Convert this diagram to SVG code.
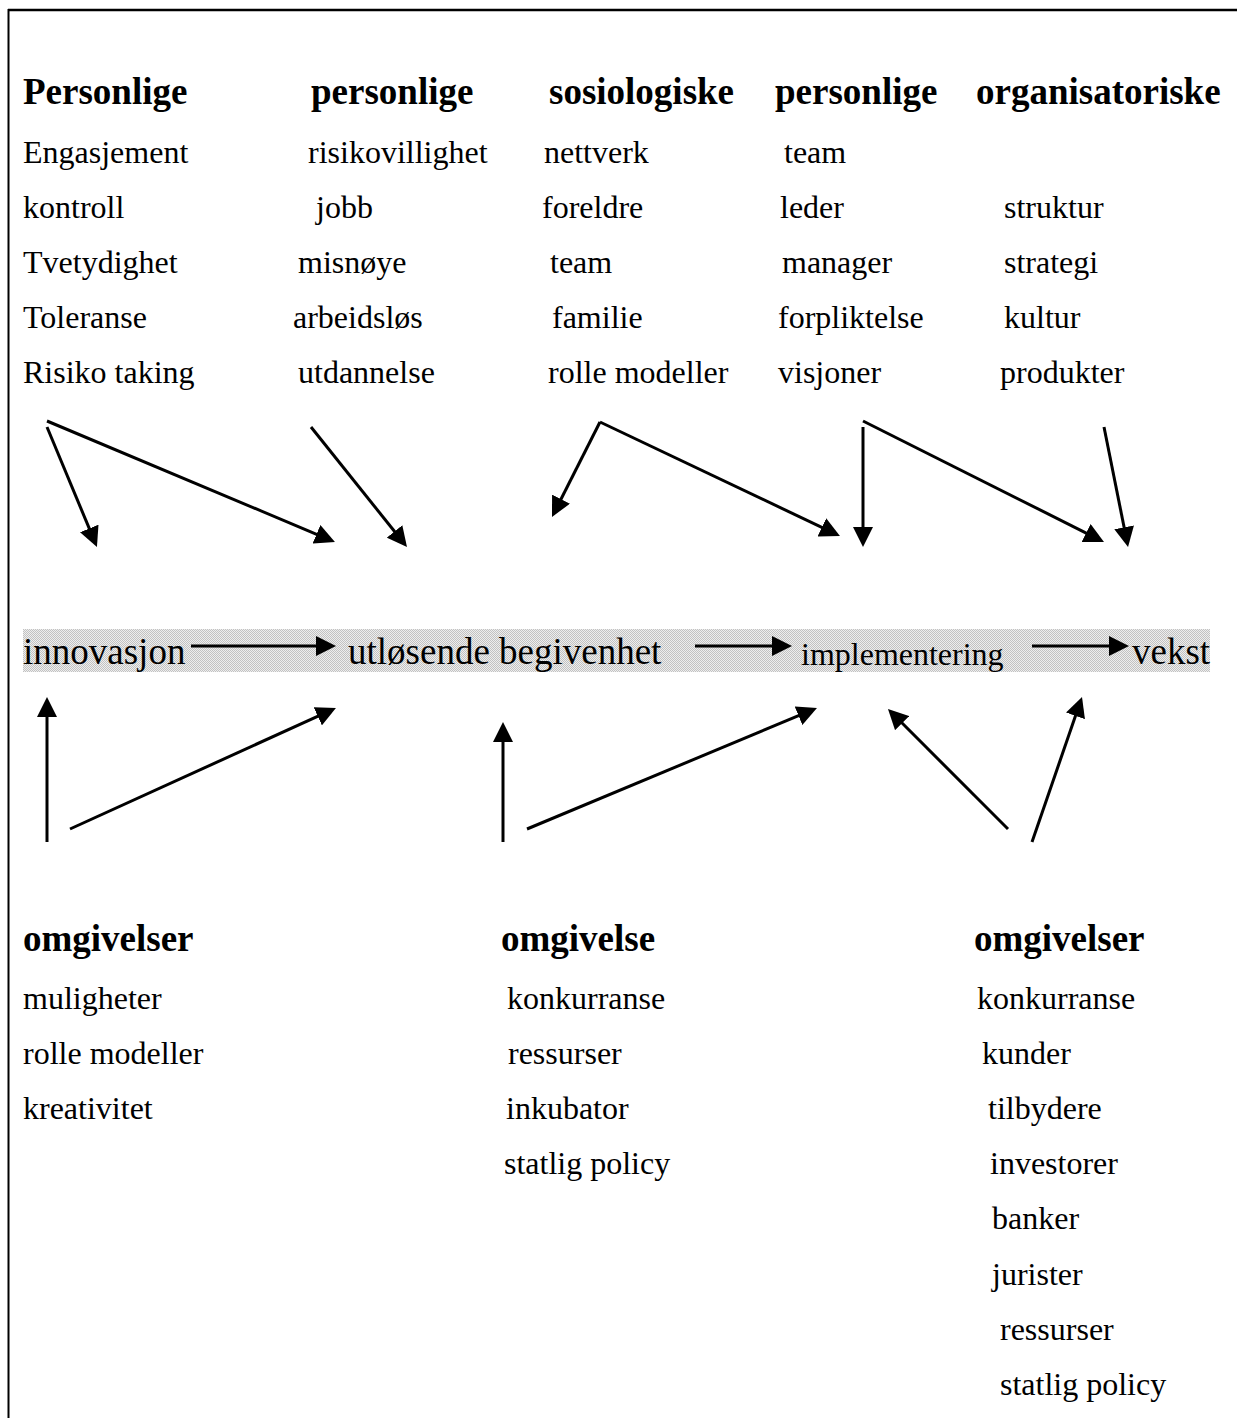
<svg xmlns="http://www.w3.org/2000/svg" width="1247" height="1418" viewBox="0 0 1247 1418">
  <style>
    text { font-family: "Liberation Serif", "Times New Roman", serif; fill: #000; }
    .head { font-size: 37px; font-weight: bold; }
    .item { font-size: 32px; }
    .stage { font-size: 37px; }
    .stage-sm { font-size: 32px; }
    .conn line { stroke: #000; stroke-width: 3; marker-end: url(#arrow); }
    .frame { stroke: #000; fill: none; }
  </style>
  <defs>
    <marker id="arrow" markerUnits="userSpaceOnUse" markerWidth="20" markerHeight="20" refX="4" refY="10" orient="auto">
      <path d="M0,0 L20,10 L0,20 z" fill="#000"/>
    </marker>
    <pattern id="dots" width="2" height="2" patternUnits="userSpaceOnUse">
      <rect width="2" height="2" fill="#eeeeee"/>
      <rect x="0" y="0" width="1" height="1" fill="#c2c2c2"/>
      <rect x="1" y="1" width="1" height="1" fill="#c2c2c2"/>
    </pattern>
  </defs>

  <rect width="1247" height="1418" fill="#fff"/>

  <!-- page frame -->
  <line class="frame" x1="8" y1="10" x2="1237" y2="10" stroke-width="2.5"/>
  <line class="frame" x1="8.5" y1="9" x2="8.5" y2="1418" stroke-width="2"/>

  <!-- shaded process band -->
  <rect x="23" y="629" width="1187" height="43" fill="url(#dots)"/>

  <!-- personal factors -->
  <g id="personlige-1">
    <text class="head" x="23" y="104">Personlige</text>
    <text class="item" x="23" y="163">Engasjement</text>
    <text class="item" x="23" y="218">kontroll</text>
    <text class="item" x="23" y="273">Tvetydighet</text>
    <text class="item" x="23" y="328">Toleranse</text>
    <text class="item" x="23" y="383">Risiko taking</text>
  </g>

  <g id="personlige-2">
    <text class="head" x="311" y="104">personlige</text>
    <text class="item" x="308" y="163">risikovillighet</text>
    <text class="item" x="316" y="218">jobb</text>
    <text class="item" x="298" y="273">misnøye</text>
    <text class="item" x="293" y="328">arbeidsløs</text>
    <text class="item" x="298" y="383">utdannelse</text>
  </g>

  <g id="sosiologiske">
    <text class="head" x="549" y="104">sosiologiske</text>
    <text class="item" x="544" y="163">nettverk</text>
    <text class="item" x="542" y="218">foreldre</text>
    <text class="item" x="550" y="273">team</text>
    <text class="item" x="552" y="328">familie</text>
    <text class="item" x="548" y="383">rolle modeller</text>
  </g>

  <g id="personlige-3">
    <text class="head" x="775" y="104">personlige</text>
    <text class="item" x="784" y="163">team</text>
    <text class="item" x="780" y="218">leder</text>
    <text class="item" x="782" y="273">manager</text>
    <text class="item" x="778" y="328">forpliktelse</text>
    <text class="item" x="778" y="383">visjoner</text>
  </g>

  <g id="organisatoriske">
    <text class="head" x="976" y="104">organisatoriske</text>
    <text class="item" x="1004" y="218">struktur</text>
    <text class="item" x="1004" y="273">strategi</text>
    <text class="item" x="1004" y="328">kultur</text>
    <text class="item" x="1000" y="383">produkter</text>
  </g>

  <!-- process stages -->
  <g id="innovasjon">
    <text class="stage" x="23" y="664">innovasjon</text>
  </g>
  <g id="utlosende">
    <text class="stage" x="348" y="664">utløsende begivenhet</text>
  </g>
  <g id="implementering">
    <text class="stage-sm" x="801" y="665">implementering</text>
  </g>
  <g id="vekst">
    <text class="stage" x="1132" y="664">vekst</text>
  </g>

  <!-- environment factors -->
  <g id="omgivelser-1">
    <text class="head" x="23" y="951">omgivelser</text>
    <text class="item" x="23" y="1009">muligheter</text>
    <text class="item" x="23" y="1064">rolle modeller</text>
    <text class="item" x="23" y="1119">kreativitet</text>
  </g>

  <g id="omgivelse-2">
    <text class="head" x="501" y="951">omgivelse</text>
    <text class="item" x="507" y="1009">konkurranse</text>
    <text class="item" x="508" y="1064">ressurser</text>
    <text class="item" x="506" y="1119">inkubator</text>
    <text class="item" x="504" y="1174">statlig policy</text>
  </g>

  <g id="omgivelser-3">
    <text class="head" x="974" y="951">omgivelser</text>
    <text class="item" x="977" y="1009">konkurranse</text>
    <text class="item" x="982" y="1064">kunder</text>
    <text class="item" x="988" y="1119">tilbydere</text>
    <text class="item" x="990" y="1174">investorer</text>
    <text class="item" x="992" y="1229">banker</text>
    <text class="item" x="992" y="1285">jurister</text>
    <text class="item" x="1000" y="1340">ressurser</text>
    <text class="item" x="1000" y="1395">statlig policy</text>
  </g>

  <!-- connectors -->
  <g id="connectors" class="conn">
    <!-- from the top factor groups down to the stages -->
    <line x1="47" y1="427" x2="90.8" y2="532.2"/>
    <line x1="47" y1="421" x2="320.2" y2="535.8"/>
    <line x1="311" y1="427" x2="397" y2="534.5"/>
    <line x1="600" y1="422" x2="559.2" y2="502.7"/>
    <line x1="600" y1="422" x2="825.5" y2="529.1"/>
    <line x1="863" y1="427" x2="863" y2="531"/>
    <line x1="863" y1="421" x2="1089.7" y2="534.8"/>
    <line x1="1104" y1="427" x2="1124.9" y2="531.3"/>

    <!-- stage to stage -->
    <line x1="191" y1="646" x2="320" y2="646"/>
    <line x1="695" y1="646" x2="776" y2="646"/>
    <line x1="1032" y1="646" x2="1113" y2="646"/>

    <!-- from the environment groups up to the stages -->
    <line x1="47" y1="842" x2="47" y2="713"/>
    <line x1="70" y1="829" x2="321.4" y2="714.6"/>
    <line x1="503" y1="842" x2="503" y2="738"/>
    <line x1="527" y1="829" x2="802.2" y2="714.2"/>
    <line x1="1008" y1="829" x2="899.3" y2="720.3"/>
    <line x1="1032" y1="842" x2="1076.8" y2="712.1"/>
  </g>
</svg>
